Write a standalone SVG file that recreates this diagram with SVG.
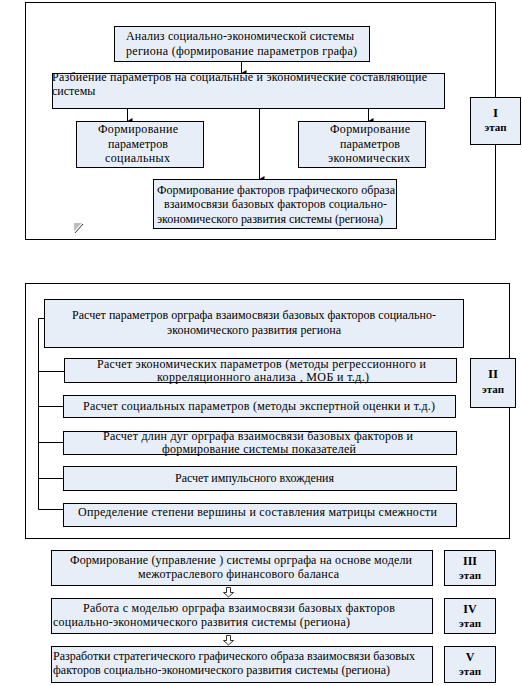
<svg xmlns="http://www.w3.org/2000/svg" width="522" height="686" viewBox="0 0 522 686">
<defs>
<style>
.frame{fill:none;stroke:#000;stroke-width:1}
.box{fill:#E8EEF7;stroke:#000;stroke-width:1}
.t{font-family:'Liberation Serif','Times New Roman',serif;font-size:12px;fill:#000}
.c{text-anchor:middle}
.st{font-family:'Liberation Serif','Times New Roman',serif;font-weight:bold;fill:#000;text-anchor:middle}
.ln{fill:none;stroke:#000;stroke-width:1}
.ha{fill:#fff;stroke:#000;stroke-width:0.8}
</style>
<marker id="ah" markerWidth="6" markerHeight="6" refX="3" refY="5" orient="auto" markerUnits="userSpaceOnUse" viewBox="0 0 6 6">
<path d="M0,0 L6,0 L3,5 Z" fill="#000"/>
</marker>
</defs>
<rect width="522" height="686" fill="#fff"/>

<!-- frames -->
<rect class="frame" x="25.5" y="2.5" width="470" height="237"/>
<rect class="frame" x="25.5" y="283.5" width="484" height="255"/>

<!-- connectors -->
<g id="connectors">
<line class="ln" x1="241.5" y1="61" x2="241.5" y2="73" marker-end="url(#ah)"/>
<line class="ln" x1="127.5" y1="108" x2="127.5" y2="121" marker-end="url(#ah)"/>
<line class="ln" x1="368.5" y1="108" x2="368.5" y2="121" marker-end="url(#ah)"/>
<line class="ln" x1="259.5" y1="108" x2="259.5" y2="179" marker-end="url(#ah)"/>
<path class="ln" d="M44,318.5 H38.5 V509.5 H63 M38.5,371.5 H64 M38.5,406.5 H63 M38.5,442.5 H63 M38.5,478.5 H63"/>
<path class="ha" d="M226.5,587.5 H230.5 V592.5 H233.5 L228.5,597 L223.5,592.5 H226.5 Z"/>
<path class="ha" d="M226.5,635.5 H230.5 V640.5 H233.5 L228.5,645 L223.5,640.5 H226.5 Z"/>
</g>

<!-- small icon -->
<g id="icon">
<path d="M74,223 H82 L74,231 Z" fill="#BDBDBD"/>
<line x1="75" y1="233" x2="83" y2="224" stroke="#333" stroke-width="1"/>
</g>

<g font-family="Liberation Serif, serif">
<!-- Stage I -->
<g id="n1">
<rect class="box" x="114.5" y="26.5" width="255" height="35"/>
<text class="t" x="126" y="40" textLength="228">Анализ социально-экономической системы</text>
<text class="t" x="126" y="55" textLength="231">региона (формирование параметров графа)</text>
</g>
<g id="n2">
<rect class="box" x="52.5" y="73.5" width="392" height="35"/>
<text class="t" x="52" y="81" textLength="375">Разбиение параметров на социальные и экономические составляющие</text>
<text class="t" x="52" y="95">системы</text>
</g>
<g id="n3">
<rect class="box" x="76.5" y="121.5" width="127" height="46"/>
<text class="t" x="98" y="133" textLength="80">Формирование</text>
<text class="t" x="108" y="148" textLength="60">параметров</text>
<text class="t" x="105" y="162" textLength="65">социальных</text>
</g>
<g id="n4">
<rect class="box" x="298.5" y="121.5" width="127" height="46"/>
<text class="t" x="330" y="133" textLength="80">Формирование</text>
<text class="t" x="340" y="148" textLength="60">параметров</text>
<text class="t" x="328" y="162" textLength="82">экономических</text>
</g>
<g id="n5">
<rect class="box" x="153.5" y="179.5" width="243" height="49"/>
<text class="t" x="157" y="194" textLength="238">Формирование факторов графического образа</text>
<text class="t" x="164" y="208" textLength="223">взаимосвязи базовых факторов социально-</text>
<text class="t" x="157" y="223" textLength="226">экономического развития системы (региона)</text>
</g>
<g id="s1">
<rect class="box" x="470.5" y="97.5" width="50" height="47"/>
<text class="st" x="495.5" y="117" font-size="13">I</text>
<text class="st" x="495.5" y="131" font-size="11">этап</text>
</g>

<!-- Stage II -->
<g id="m1">
<rect class="box" x="44.5" y="299.5" width="419" height="48"/>
<text class="t" x="72" y="319" textLength="364">Расчет параметров орграфа  взаимосвязи базовых факторов социально-</text>
<text class="t" x="167" y="334" textLength="174">экономического развития региона</text>
</g>
<g id="m2">
<rect class="box" x="64.5" y="358.5" width="392" height="24"/>
<text class="t" x="97" y="367.5" textLength="329" font-size="11.5">Расчет экономических параметров  (методы регрессионного и</text>
<text class="t" x="157" y="381" textLength="212" font-size="11.5">корреляционного анализа , МОБ и т.д.)</text>
</g>
<g id="m3">
<rect class="box" x="63.5" y="395.5" width="392" height="22"/>
<text class="t" x="83" y="410" textLength="352">Расчет социальных параметров  (методы экспертной оценки и т.д.)</text>
</g>
<g id="m4">
<rect class="box" x="63.5" y="431.5" width="393" height="23"/>
<text class="t" x="103" y="440" textLength="310">Расчет длин дуг  орграфа взаимосвязи базовых факторов и</text>
<text class="t" x="162" y="453" textLength="194">формирование  системы показателей</text>
</g>
<g id="m5">
<rect class="box" x="63.5" y="466.5" width="393" height="24"/>
<text class="t" x="175" y="482" textLength="159">Расчет импульсного вхождения</text>
</g>
<g id="m6">
<rect class="box" x="63.5" y="503.5" width="393" height="23"/>
<text class="t" x="78" y="516" textLength="359">Определение степени вершины и составления матрицы  смежности</text>
</g>
<g id="s2">
<rect class="box" x="470.5" y="358.5" width="45" height="49"/>
<text class="st" x="493" y="378" font-size="13">II</text>
<text class="st" x="493" y="393" font-size="11">этап</text>
</g>

<!-- Stages III-V -->
<g id="b1">
<rect class="box" x="51.5" y="550.5" width="381" height="35"/>
<text class="t" x="70" y="564" textLength="342">Формирование  (управление ) системы орграфа на основе модели</text>
<text class="t" x="138" y="578" textLength="201">межотраслевого финансового баланса</text>
</g>
<g id="s3">
<rect class="box" x="444.5" y="550.5" width="51" height="35"/>
<text class="st" x="470" y="565" font-size="12">III</text>
<text class="st" x="470" y="579" font-size="11">этап</text>
</g>
<g id="b2">
<rect class="box" x="51.5" y="598.5" width="381" height="35"/>
<text class="t" x="83" y="612" textLength="312">Работа с моделью орграфа взаимосвязи базовых факторов</text>
<text class="t" x="53" y="626" textLength="297">социально-экономического развития системы (региона)</text>
</g>
<g id="s4">
<rect class="box" x="444.5" y="598.5" width="51" height="35"/>
<text class="st" x="470" y="613" font-size="12">IV</text>
<text class="st" x="470" y="627" font-size="11">этап</text>
</g>
<g id="b3">
<rect class="box" x="51.5" y="646.5" width="381" height="36"/>
<text class="t" x="53" y="660" textLength="362">Разработки стратегического графического образа взаимосвязи базовых</text>
<text class="t" x="53" y="674" textLength="337">факторов социально-экономического развития системы (региона)</text>
</g>
<g id="s5">
<rect class="box" x="444.5" y="646.5" width="51" height="36"/>
<text class="st" x="470" y="661" font-size="12">V</text>
<text class="st" x="470" y="675" font-size="11">этап</text>
</g>
</g>
</svg>
